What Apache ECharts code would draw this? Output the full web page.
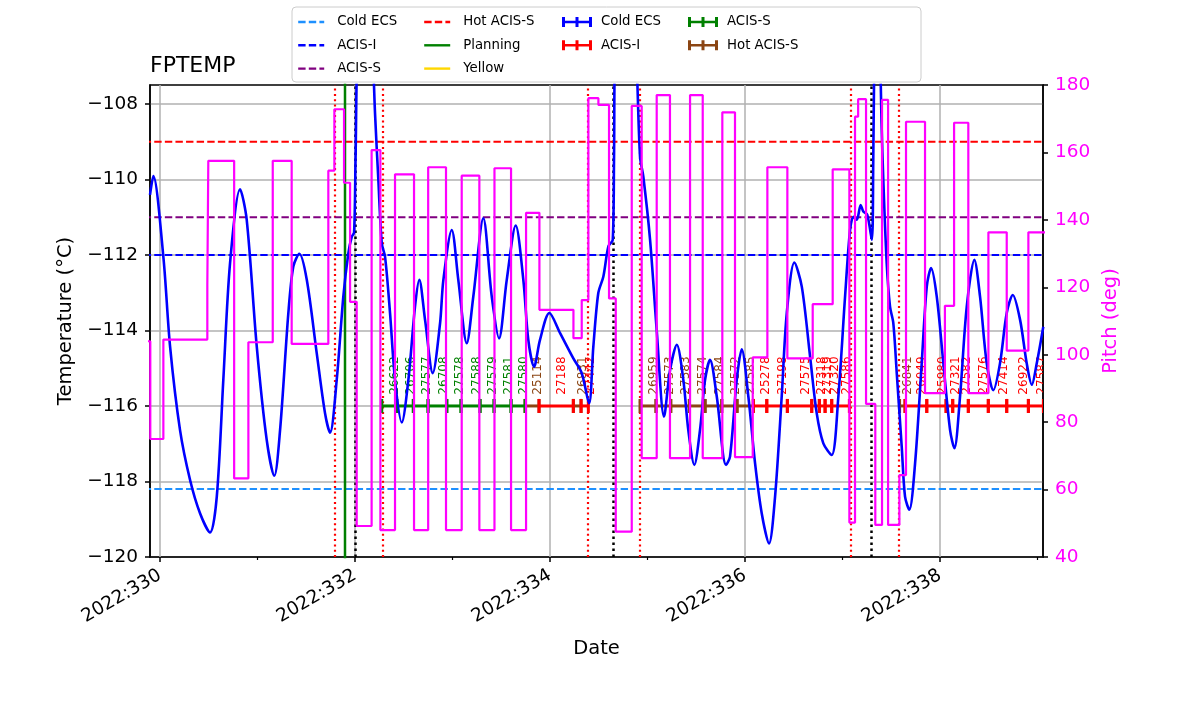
<!DOCTYPE html>
<html>
<head>
<meta charset="utf-8">
<script src="https://cdn.jsdelivr.net/npm/echarts/dist/echarts.min.js"></script>
<style>html,body{margin:0;padding:0;background:#fff}#chart{width:1200px;height:714px}</style>
</head>
<body>
<div id="chart"></div>
<script>
// ---------------- DATA ----------------
const tempDays = [329.897,329.931,330.034,330.103,330.205,330.308,330.410,330.513,330.582,330.649,330.718,330.821,330.889,330.992,331.094,331.172,331.231,331.316,331.367,331.429,331.505,331.607,331.692,331.744,331.812,331.880,331.931,331.966,331.990,332.005,332.030,332.100,332.170,332.205,332.239,332.274,332.308,332.359,332.410,332.479,332.547,332.615,332.659,332.718,332.797,332.872,332.906,332.992,333.059,333.146,333.213,333.316,333.402,333.477,333.556,333.648,333.726,333.777,333.836,333.897,333.993,334.103,334.239,334.325,334.400,334.444,334.495,334.547,334.598,334.643,334.656,334.670,334.770,334.870,334.923,334.957,335.026,335.094,335.169,335.231,335.300,335.367,335.418,335.480,335.538,335.590,335.641,335.710,335.805,335.846,335.915,335.966,336.034,336.103,336.171,336.246,336.308,336.376,336.428,336.506,336.582,336.667,336.735,336.803,336.889,336.957,337.026,337.077,337.111,337.146,337.186,337.213,337.254,337.300,337.315,337.330,337.355,337.380,337.400,337.418,337.453,337.487,337.521,337.556,337.607,337.641,337.685,337.744,337.812,337.864,337.908,337.966,338.034,338.103,338.147,338.205,338.274,338.352,338.410,338.479,338.547,338.615,338.684,338.746,338.821,338.889,338.941,338.992,339.059];
const tempVals = [-110.41,-109.91,-112.05,-114.43,-116.64,-117.96,-118.84,-119.35,-118.40,-115.31,-112.22,-110.26,-111.07,-114.43,-116.90,-117.85,-116.64,-113.54,-112.31,-111.97,-112.66,-114.60,-116.19,-116.71,-115.31,-113.10,-111.96,-111.52,-111.41,-109.5,-106.0,-104.0,-106.0,-108.25,-110.01,-111.69,-112.05,-113.54,-115.31,-116.44,-115.31,-113.37,-112.66,-113.72,-115.13,-113.81,-112.66,-111.34,-112.66,-114.34,-113.10,-111.03,-113.10,-114.21,-112.66,-111.22,-112.66,-114.25,-114.96,-114.25,-113.54,-114.07,-114.74,-115.13,-115.93,-114.43,-113.01,-112.57,-111.78,-111.60,-109.5,-106.0,-104.0,-106.0,-109.40,-109.93,-111.60,-113.99,-116.28,-115.05,-114.38,-115.31,-116.64,-117.56,-116.64,-115.31,-114.78,-115.75,-117.56,-117.34,-115.31,-114.50,-115.75,-117.52,-118.84,-119.64,-118.40,-115.75,-113.54,-112.20,-112.84,-114.69,-116.19,-116.99,-117.30,-115.75,-113.10,-111.34,-110.99,-111.07,-110.68,-110.85,-110.94,-111.60,-109.5,-106.0,-104.0,-106.0,-108.5,-110.01,-112.22,-113.37,-113.81,-115.13,-117.08,-118.40,-118.75,-117.52,-114.87,-112.84,-112.35,-113.10,-114.87,-116.64,-117.12,-115.75,-113.37,-112.13,-113.10,-114.87,-115.58,-114.87,-113.54,-113.06,-113.72,-114.87,-115.44,-114.87,-113.90];

const pitchDays = [329.850,329.900,330.034,330.485,330.495,330.760,330.906,331.156,331.350,331.726,331.788,331.887,331.949,332.017,332.170,332.260,332.410,332.605,332.750,332.933,333.094,333.275,333.430,333.600,333.754,333.891,334.240,334.325,334.393,334.496,334.605,334.674,334.838,334.940,335.094,335.230,335.436,335.566,335.767,335.897,336.079,336.229,336.434,336.694,336.899,337.070,337.128,337.160,337.241,337.336,337.405,337.467,337.583,337.651,337.846,338.050,338.144,338.290,338.496,338.684,338.906,339.100];
const pitchVals = [104,75,104.5,120.5,157.5,63.3,103.7,157.5,103.2,154.6,172.8,151,115.7,49.2,160.7,48,153.5,48,155.6,48,153.1,48,155.3,48,142.1,113.3,104.9,116.2,176.1,174.1,116.7,47.5,173.8,69.3,177,69.3,177,69.3,171.9,69.6,99.2,155.6,98.9,115,155,50.2,170.6,175.8,85.4,49.5,175.6,49.5,64.3,169.1,88.6,114.5,168.8,88.6,136.3,101.2,136.3,136.3];

const limitNames = ['Cold ECS', 'ACIS-I', 'ACIS-S', 'Hot ACIS-S'];
const limitVals = [-118.2, -112, -111, -109];
const planningDay = 331.897;
const redDotDays = [331.785, 332.277, 334.390, 334.923, 337.077, 337.579];
const blackDotDays = [332.000, 334.646, 337.292];

const obsIds   = ['26622','26706','27577','26708','27578','27588','27579','27581','27580','25114','27188','26831','27442','26959','27573','27583','27574','27584','27572','27585','25278','27198','27575','27318','27319','27320','27586','26841','26049','25980','27321','27582','27576','27414','26922','27587'];
const obsStart = [332.274,332.428,332.598,332.749,332.941,333.087,333.282,333.426,333.600,333.744,333.887,334.239,334.318,334.923,335.087,335.238,335.429,335.590,335.761,335.918,336.085,336.223,336.434,336.684,336.762,336.821,336.889,337.585,337.641,337.864,338.062,338.130,338.290,338.495,338.684,338.906];
const obsStop  = [332.428,332.598,332.749,332.941,333.087,333.282,333.426,333.600,333.744,333.887,334.239,334.318,334.393,335.087,335.238,335.429,335.590,335.761,335.918,336.085,336.223,336.434,336.684,336.762,336.821,336.889,337.070,337.641,337.864,338.062,338.130,338.290,338.495,338.684,338.906,339.060];
const obsMode  = ['ACIS-S','ACIS-S','ACIS-S','ACIS-S','ACIS-S','ACIS-S','ACIS-S','ACIS-S','ACIS-S','Hot ACIS-S','ACIS-I','Hot ACIS-S','ACIS-I','Hot ACIS-S','Hot ACIS-S','Hot ACIS-S','Hot ACIS-S','Hot ACIS-S','Hot ACIS-S','Hot ACIS-S','ACIS-I','ACIS-I','ACIS-I','ACIS-I','ACIS-I','ACIS-I','ACIS-I','Hot ACIS-S','ACIS-I','ACIS-I','ACIS-I','ACIS-I','ACIS-I','ACIS-I','ACIS-I','ACIS-I'];
const obsLevel = -116;
const obsLabelLevel = -115.7;

const majorDays = [330, 332, 334, 336, 338];
const minorDays = [331, 333, 335, 337, 339];
const tempTicks = [-120, -118, -116, -114, -112, -110, -108];
const pitchTicks = [40, 60, 80, 100, 120, 140, 160, 180];

// ---------------- STYLE ----------------
const FONT = 'DejaVu Sans';
const DASH = [7.4, 3.2];
const TICKFS = 18.5, NAMEFS = 19.5;
const limitColors = {'Cold ECS':'#1e90ff','ACIS-I':'#0000ff','ACIS-S':'#800080','Hot ACIS-S':'#ff0000'};
const obsColors = {'Cold ECS':'#0000ff','ACIS-I':'#ff0000','ACIS-S':'#008000','Hot ACIS-S':'#8b4513'};
const errIcon = 'path://M0,4.5h30v3h-30z M0,0h3v12h-3z M13.5,0h3v12h-3z M27,0h3v12h-3z';
const X0 = 329.897, X1 = 339.056;

const chart = echarts.init(document.getElementById('chart'), null, {renderer:'canvas'});

const series = [];

// vertical grid lines (helper)
series.push({
  type:'line', name:'_grid', data:[], xAxisIndex:0, yAxisIndex:0, silent:true,
  markLine:{silent:true, z:1, symbol:['none','none'], label:{show:false}, animation:false,
    lineStyle:{color:'#b0b0b0', width:1.5, type:'solid'},
    emphasis:{disabled:true},
    data: majorDays.map(d => ({xAxis:d}))}
});

// limit lines
limitNames.forEach((n,i) => {
  series.push({
    type:'line', name:n, xAxisIndex:0, yAxisIndex:0, symbol:'none', z:3, silent:true,
    data:[[X0-0.5, limitVals[i]], [X1+0.5, limitVals[i]]],
    itemStyle:{color:limitColors[n]},
    lineStyle:{color:limitColors[n], width:2, type:DASH}
  });
});

// planning + yellow
series.push({
  type:'line', name:'Planning', xAxisIndex:0, yAxisIndex:0, symbol:'none', z:3, silent:true,
  data:[[planningDay,-121],[planningDay,-106]],
  itemStyle:{color:'#008000'}, lineStyle:{color:'#008000', width:2.5}
});
series.push({
  type:'line', name:'Yellow', xAxisIndex:0, yAxisIndex:0, symbol:'none', z:3, silent:true,
  data:[], itemStyle:{color:'#ffd700'}, lineStyle:{color:'#ffd700', width:2.5}
});

// dotted vertical lines
series.push({
  type:'line', name:'_reddot', data:[], xAxisIndex:0, yAxisIndex:0, silent:true,
  markLine:{silent:true, z:3, symbol:['none','none'], label:{show:false}, animation:false,
    lineStyle:{color:'#ff0000', width:2.2, type:[2,3.3]}, emphasis:{disabled:true},
    data: redDotDays.map(d => ({xAxis:d}))}
});
series.push({
  type:'line', name:'_blackdot', data:[], xAxisIndex:0, yAxisIndex:0, silent:true,
  markLine:{silent:true, z:3, symbol:['none','none'], label:{show:false}, animation:false,
    lineStyle:{color:'#000000', width:2.5, type:[2.5,3.5]}, emphasis:{disabled:true},
    data: blackDotDays.map(d => ({xAxis:d}))}
});

// obsid errorbars
function renderErr(params, api) {
  const t0 = api.value(0), t1 = api.value(1), lv = api.value(2), idx = api.value(3);
  const s = api.coord([t0, lv]);
  const e = api.coord([t1, lv]);
  const m = api.coord([(t0 + t1) / 2, obsLabelLevel]);
  const col = api.visual('color');
  const h = 7;
  const st = {stroke: col, lineWidth: 3};
  return {type:'group', children:[
    {type:'line', shape:{x1:s[0], y1:s[1], x2:e[0], y2:e[1]}, style:st},
    {type:'line', shape:{x1:s[0], y1:s[1]-h, x2:s[0], y2:s[1]+h}, style:st},
    {type:'line', shape:{x1:e[0], y1:e[1]-h, x2:e[0], y2:e[1]+h}, style:st},
    {type:'text', x:m[0], y:m[1], rotation:Math.PI/2,
     style:{text: obsIds[idx], fill: col, font: '12px "DejaVu Sans"', fontSize:12, fontFamily:FONT,
            align:'left', verticalAlign:'top', textAlign:'left', textVerticalAlign:'top'}}
  ]};
}
['Hot ACIS-S','ACIS-I','ACIS-S','Cold ECS'].forEach(mode => {
  const data = [];
  obsIds.forEach((id, i) => { if (obsMode[i] === mode) data.push([obsStart[i], obsStop[i], obsLevel, i]); });
  series.push({
    type:'custom', name:'obs:' + mode, xAxisIndex:0, yAxisIndex:0, z:3, silent:true, clip:true,
    itemStyle:{color: obsColors[mode]},
    encode:{x:[0,1], y:2},
    renderItem: renderErr, data: data
  });
});

// temperature
series.push({
  type:'line', name:'FPTEMP', xAxisIndex:0, yAxisIndex:0, symbol:'none', z:4, smooth:0.3, silent:true,
  data: tempDays.map((d,i) => [d, tempVals[i]]),
  itemStyle:{color:'#0000ff'}, lineStyle:{color:'#0000ff', width:2.6}
});

// pitch
series.push({
  type:'line', name:'Pitch', xAxisIndex:0, yAxisIndex:1, symbol:'none', z:5, step:'end', silent:true,
  data: pitchDays.map((d,i) => [d, pitchVals[i]]),
  itemStyle:{color:'#ff00ff'}, lineStyle:{color:'#ff00ff', width:2.2}
});

const legendBase = {
  orient:'vertical', padding:0, itemGap:9.3, top:15, selectedMode:false,
  itemWidth:26, itemHeight:14,
  textStyle:{fontSize:13.3, fontFamily:FONT, color:'#000', lineHeight:14, padding:[0,0,0,8]},
  formatter: n => n.replace('obs:', '')
};
const lineLegend = {itemStyle:{opacity:0}, lineStyle:{width:2.4}};
const lineItem = n => ({name:n, itemStyle:{opacity:0}, lineStyle:{width:2.4}});

const option = {
  animation:false,
  textStyle:{fontFamily:FONT},
  title:{text:'FPTEMP', left:150, top:55, padding:0,
         textStyle:{fontSize:22, fontWeight:'normal', fontFamily:FONT, color:'#000'}},
  graphic:[{type:'rect', z:-1, silent:true, shape:{x:292, y:7, width:629, height:75, r:4},
            style:{fill:'#ffffff', stroke:'#cccccc', lineWidth:1}}],
  legend:[
    Object.assign({}, legendBase, lineLegend, {left:297, data:['Cold ECS','ACIS-I','ACIS-S'].map(lineItem)}),
    Object.assign({}, legendBase, lineLegend, {left:423, data:['Hot ACIS-S','Planning','Yellow'].map(lineItem)}),
    Object.assign({}, legendBase, {left:562, itemWidth:30, itemHeight:10, symbolKeepAspect:false,
      textStyle:Object.assign({}, legendBase.textStyle, {padding:[0,0,0,4]}),
      data:[{name:'obs:Cold ECS', icon:errIcon}, {name:'obs:ACIS-I', icon:errIcon}]}),
    Object.assign({}, legendBase, {left:688, itemWidth:30, itemHeight:10, symbolKeepAspect:false,
      textStyle:Object.assign({}, legendBase.textStyle, {padding:[0,0,0,4]}),
      data:[{name:'obs:ACIS-S', icon:errIcon}, {name:'obs:Hot ACIS-S', icon:errIcon}]})
  ],
  grid:{left:150, right:157, top:85, bottom:157, show:true, borderColor:'#000', borderWidth:1.5,
        backgroundColor:'transparent', containLabel:false, outerBoundsMode:'none'},
  xAxis:[{
    type:'value', min:X0, max:X1, position:'bottom',
    axisLine:{show:true, onZero:false, lineStyle:{color:'#000', width:1.5}},
    axisTick:{show:true, customValues:majorDays, length:5, lineStyle:{color:'#000', width:1.5}},
    axisLabel:{show:true, customValues:majorDays, rotate:30, margin:17, fontSize:TICKFS, color:'#000', fontFamily:FONT,
               formatter: v => '2022:' + v},
    splitLine:{show:false},
    name:'Date', nameLocation:'middle', nameGap:82,
    nameTextStyle:{fontSize:NAMEFS, color:'#000', fontFamily:FONT}
  },{
    type:'value', min:X0, max:X1, position:'bottom',
    axisLine:{show:false, onZero:false},
    axisTick:{show:true, customValues:minorDays, length:3, lineStyle:{color:'#000', width:1.2}},
    axisLabel:{show:false}, splitLine:{show:false}
  }],
  yAxis:[{
    type:'value', min:-120, max:-107.5, interval:2, position:'left',
    axisLine:{show:true, onZero:false, lineStyle:{color:'#000', width:1.5}},
    axisTick:{show:true, customValues:tempTicks, length:5, lineStyle:{color:'#000', width:1.5}},
    axisLabel:{customValues:tempTicks, fontSize:TICKFS, color:'#000', margin:12, fontFamily:FONT,
               formatter: v => (v < 0 ? '\u2212' + Math.abs(v) : String(v))},
    splitLine:{show:true, lineStyle:{color:'#b0b0b0', width:1.5}},
    name:'Temperature (\u00b0C)', nameLocation:'middle', nameGap:71,
    nameTextStyle:{fontSize:NAMEFS, color:'#000', fontFamily:FONT}
  },{
    type:'value', min:40, max:180, interval:20, position:'right',
    axisLine:{show:true, onZero:false, lineStyle:{color:'#000', width:1.5}},
    axisTick:{show:true, customValues:pitchTicks, length:5, lineStyle:{color:'#000', width:1.5}},
    axisLabel:{customValues:pitchTicks, fontSize:TICKFS, color:'#ff00ff', margin:12, fontFamily:FONT},
    splitLine:{show:false},
    name:'Pitch (deg)', nameLocation:'middle', nameGap:52,
    nameTextStyle:{fontSize:NAMEFS, color:'#ff00ff', fontFamily:FONT}
  }],
  series: series
};
chart.setOption(option);
</script>
</body>
</html>
